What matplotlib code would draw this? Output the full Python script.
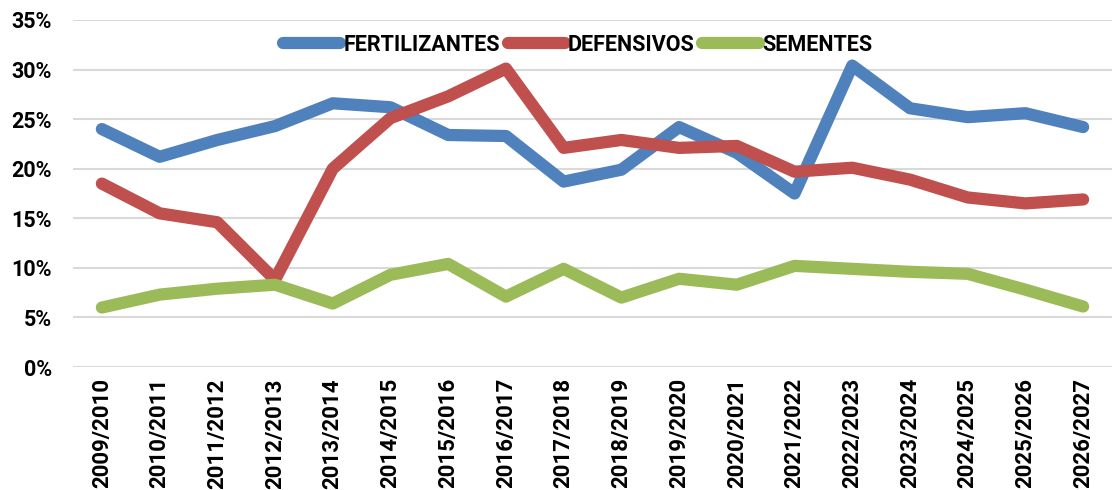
import matplotlib
matplotlib.use("Agg")
import matplotlib.pyplot as plt
from matplotlib.ticker import FuncFormatter, MultipleLocator

safras = ["2009/2010", "2010/2011", "2011/2012", "2012/2013", "2013/2014", "2014/2015",
          "2015/2016", "2016/2017", "2017/2018", "2018/2019", "2019/2020", "2020/2021",
          "2021/2022", "2022/2023", "2023/2024", "2024/2025", "2025/2026", "2026/2027"]
fertilizantes = [24.0, 21.2, 22.9, 24.3, 26.6, 26.2, 23.4, 23.3, 18.7, 19.9, 24.2, 21.6,
                 17.5, 30.4, 26.1, 25.2, 25.6, 24.2]
defensivos = [18.5, 15.5, 14.6, 8.8, 20.0, 25.1, 27.3, 30.1, 22.1, 22.9, 22.1, 22.3,
              19.7, 20.1, 18.9, 17.1, 16.5, 16.9]
sementes = [6.0, 7.3, 7.9, 8.3, 6.4, 9.3, 10.4, 7.1, 9.9, 7.0, 8.9, 8.3,
            10.2, 9.9, 9.6, 9.4, 7.8, 6.1]

plt.rcParams['font.family'] = ['Roboto', 'DejaVu Sans']

fig = plt.figure(figsize=(11.12, 4.9), dpi=100)
ax = fig.add_axes([73/1112, 1 - 367/490, 1 - 73/1112, (367 - 20)/490])

x = list(range(len(safras)))
kw = dict(lw=8.8, solid_capstyle='round', solid_joinstyle='round')
ax.plot(x, fertilizantes, color='#4F81BD', label='FERTILIZANTES', **kw)
ax.plot(x, defensivos, color='#C0504D', label='DEFENSIVOS', **kw)
ax.plot(x, sementes, color='#9BBB59', label='SEMENTES', **kw)

ax.set_ylim(0, 35)
ax.set_xlim(-0.5, len(safras) - 0.5)
ax.yaxis.set_major_locator(MultipleLocator(5))
ax.yaxis.set_major_formatter(FuncFormatter(lambda v, p: f"{v:.0f}%"))
ax.set_xticks(x)
ax.set_xticklabels(safras, rotation=90, fontsize=16, fontweight='bold', color='black')
for t in ax.get_yticklabels():
    t.set_fontsize(15.5)
    t.set_fontweight('bold')
    t.set_color('black')
ax.tick_params(length=0, pad=8)
ax.tick_params(axis='y', pad=15)
ax.grid(axis='y', color='#D9D9D9', lw=1.5)
ax.set_axisbelow(True)
for s in ax.spines.values():
    s.set_visible(False)

fig.legend(loc='center', bbox_to_anchor=(578/1112, 1 - 45/490), ncol=3, frameon=False,
           prop={'weight': 'bold', 'size': 15.5}, labelcolor='black',
           handlelength=2.65, handletextpad=0.15, columnspacing=0.35)

fig.savefig("out.png", dpi=100)
